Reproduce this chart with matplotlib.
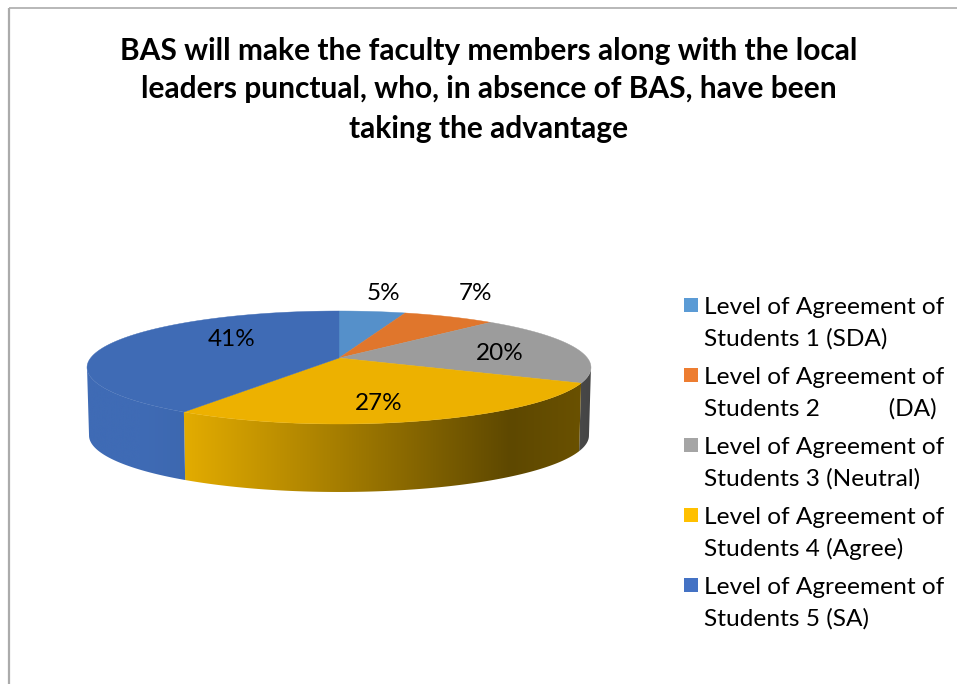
import numpy as np
import matplotlib
matplotlib.use("Agg")
import matplotlib.pyplot as plt
from matplotlib.colors import to_rgb
from matplotlib.patches import Polygon, Rectangle

plt.rcParams['font.family'] = ['Lato', 'DejaVu Sans']

# Survey results
title_lines = ["BAS will make the faculty members along with the local",
               "leaders punctual, who, in absence of BAS, have been",
               "taking the advantage"]
percentages = [5, 7, 20, 27, 41]
legend_labels = [("Level of Agreement of", "Students 1 (SDA)"),
                 ("Level of Agreement of", "Students 2           (DA)"),
                 ("Level of Agreement of", "Students 3 (Neutral)"),
                 ("Level of Agreement of", "Students 4 (Agree)"),
                 ("Level of Agreement of", "Students 5 (SA)")]

top_colors = ['#5590CA', '#E0762C', '#9C9C9C', '#EDB100', '#3F6BB5']
legend_colors = ['#5B9BD5', '#ED7D31', '#A5A5A5', '#FFC000', '#4472C4']
label_xy = [(383, 293), (475, 293), (500, 353), (379, 403), (232, 340)]

# Pie geometry in pixels, with a little perspective on the disc
CX, APEX_Y = 339, 358
A, B, K = 248.4, 54.9, 0.168
DEPTH = 68

# Side shading runs left to right, different for each slice
wall_stops = {
    0: [(0, top_colors[0]), (957, top_colors[0])],
    1: [(0, top_colors[1]), (957, top_colors[1])],
    2: [(575, '#4A4A4A'), (592, '#444444')],
    3: [(184, '#E3AC00'), (339, '#A57D00'), (510, '#5E4800'), (582, '#6A5100')],
    4: [(87, '#3F6BB5'), (140, '#3F6BB5'), (184, '#3D68B0')],
}


def rim(theta):
    # theta is clockwise from 12 o'clock
    u, v = np.sin(theta), np.cos(theta)
    w = 1 + K * v
    return CX + A * u / w, APEX_Y - B * v / w


fig = plt.figure(figsize=(9.57, 6.84), dpi=100)
ax = fig.add_axes([0, 0, 1, 1])
ax.axis('off')

# Frame, only top and left are visible
ax.plot([8.5, 957], [8, 8], color='#ABABAB', lw=1.2, solid_capstyle='butt')
ax.plot([9, 9], [8, 684], color='#ABABAB', lw=1.6, solid_capstyle='butt')

edges = 2 * np.pi * np.cumsum([0] + percentages) / sum(percentages)

# Only the front of the rim has a visible wall, between the two silhouette points
front_start = np.arccos(-K)
front_end = 2 * np.pi - front_start

for i in range(len(percentages)):
    start, end = max(edges[i], front_start), min(edges[i + 1], front_end)
    if start >= end:
        continue
    th = np.linspace(start, end, 200)
    x, y = rim(th)
    xb = CX + (x - CX) * 0.992
    yb = y + DEPTH
    pts = list(zip(x, y)) + list(zip(xb[::-1], yb[::-1]))
    wall = Polygon(pts, closed=True, facecolor='none', edgecolor='none')
    ax.add_patch(wall)

    x0, x1 = min(x.min(), xb.min()), max(x.max(), xb.max())
    grad_x = np.linspace(x0, x1, 256)
    sx = [s[0] for s in wall_stops[i]]
    rgb = np.array([to_rgb(s[1]) for s in wall_stops[i]])
    grad = np.stack([np.interp(grad_x, sx, rgb[:, c]) for c in range(3)], axis=-1)[np.newaxis, :, :]
    im = ax.imshow(grad, extent=(x0, x1, yb.max(), y.min()), aspect='auto', zorder=0.5)
    im.set_clip_path(wall)

# Top face
for i in range(len(percentages)):
    th = np.linspace(edges[i], edges[i + 1], 120)
    x, y = rim(th)
    pts = [(CX, APEX_Y)] + list(zip(x, y))
    ax.add_patch(Polygon(pts, closed=True, facecolor=top_colors[i], edgecolor=top_colors[i], lw=0.3))

for value, (lx, ly) in zip(percentages, label_xy):
    ax.text(lx, ly, f"{value}%", ha='center', va='center', fontsize=17.5, color='black')

# Title
for line, ty in zip(title_lines, [51, 89, 129]):
    ax.text(489, ty, line, ha='center', va='center', fontsize=21.5, fontweight='bold', color='black')

# Legend
for i, (first, second) in enumerate(legend_labels):
    y0 = 305 + 70 * i
    ax.add_patch(Rectangle((684, y0 - 7), 14, 14, facecolor=legend_colors[i], edgecolor='none'))
    ax.text(704, y0 + 2, first, ha='left', va='center', fontsize=17.6, color='black')
    ax.text(704, y0 + 34, second, ha='left', va='center', fontsize=17.6, color='black')

ax.set_xlim(0, 957)
ax.set_ylim(684, 0)

fig.savefig("out.png", dpi=100)
